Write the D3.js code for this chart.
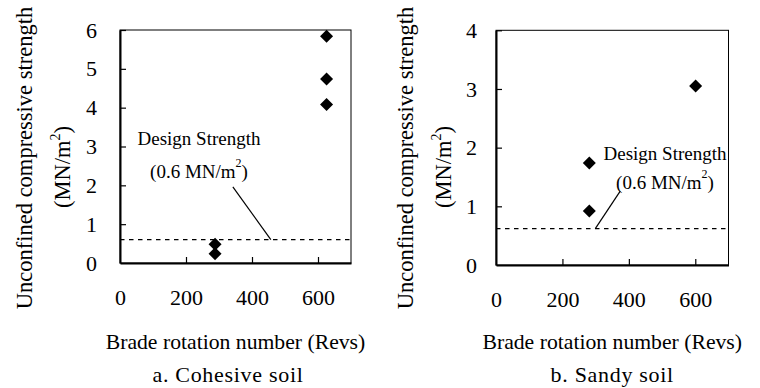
<!DOCTYPE html>
<html>
<meta charset="utf-8">
<style>
  body { margin: 0; background: #fff; }
  svg { display: block; }
  text { font-family: 'Liberation Serif', 'Times New Roman', serif; fill: #000; }
</style>
<body>
<svg width="760" height="388"></svg>
<script src="https://d3js.org/d3.v7.min.js"></script>
<script>
  // values
  let revTicks = [0, 200, 400, 600];
  let cohesiveTicks = [0, 1, 2, 3, 4, 5, 6];
  let sandyTicks = [0, 1, 2, 3, 4];
  let cohesiveRevs = [626, 626, 626, 288, 288];
  let cohesiveStrength = [5.84, 4.74, 4.08, 0.48, 0.24];
  let sandyRevs = [281, 281, 601];
  let sandyStrength = [1.74, 0.92, 3.05];
  let designStrength = 0.6;

  let svg = d3.select("svg");

  // one panel per soil type
  let panels = [
    { revs: cohesiveRevs, vals: cohesiveStrength, ticks: cohesiveTicks, ymax: 6,
      x0: 120, x1: 351, y0: 263, y1: 30, caption: "a. Cohesive soil", capShift: -7.5,
      pointer: [[342, 1.96], [457, designStrength]], ypad: 23,
      label: [199, 138], label2: [199, 171], design: designStrength, tx: 32 },
    { revs: sandyRevs, vals: sandyStrength, ticks: sandyTicks, ymax: 4,
      x0: 496, x1: 728.5, y0: 265, y1: 30.3, caption: "b. Sandy soil", capShift: 0,
      pointer: [[374, 1.26], [299, 0.62]], ypad: 19,
      label: [665, 153], label2: [665, 182], design: 0.62, tx: 413 }
  ];

  panels.forEach(function(p) {
    let x = d3.scaleLinear().domain([0, 700]).range([p.x0, p.x1]);
    let y = d3.scaleLinear().domain([0, p.ymax]).range([p.y0, p.y1]);
    let g = svg.append("g");

    // frame
    g.append("rect")
      .attr("x", p.x0).attr("y", p.y1)
      .attr("width", p.x1 - p.x0).attr("height", p.y0 - p.y1)
      .attr("fill", "none").attr("stroke", "#000").attr("stroke-width", 1);

    // axes with inside ticks
    let xa = g.append("g")
      .attr("transform", "translate(0," + p.y0 + ")")
      .call(d3.axisBottom(x).tickValues(revTicks).tickFormat(d3.format("d"))
        .tickSizeInner(-6).tickSizeOuter(0).tickPadding(26));
    let ya = g.append("g")
      .attr("transform", "translate(" + p.x0 + ",0)")
      .call(d3.axisLeft(y).tickValues(p.ticks).tickFormat(d3.format("d"))
        .tickSizeInner(-6).tickSizeOuter(0).tickPadding(p.ypad));
    [xa, ya].forEach(function(a) {
      a.attr("font-family", "'Liberation Serif', serif").attr("font-size", 22);
      a.select(".domain").attr("stroke-width", 2);
      a.selectAll("line").attr("stroke-width", 1.2);
      a.selectAll("text").style("font-size", "22px");
    });
    xa.selectAll(".tick").filter(d => d === 0).select("line").remove();
    ya.selectAll(".tick").filter(d => d === 0).select("line").remove();

    // design strength line
    g.append("line")
      .attr("x1", x(0)).attr("x2", x(700))
      .attr("y1", y(p.design)).attr("y2", y(p.design))
      .attr("stroke", "#000").attr("stroke-width", 1.2)
      .attr("stroke-dasharray", "4.5,4.5");

    g.append("line")
      .attr("x1", x(p.pointer[0][0])).attr("y1", y(p.pointer[0][1]))
      .attr("x2", x(p.pointer[1][0])).attr("y2", y(p.pointer[1][1]))
      .attr("stroke", "#000").attr("stroke-width", 1.2);

    g.append("text")
      .attr("x", p.label[0]).attr("y", p.label[1])
      .attr("text-anchor", "middle").attr("dominant-baseline", "central")
      .style("font-size", "19px").text("Design Strength");
    let t2 = g.append("text")
      .attr("x", p.label2[0]).attr("y", p.label2[1])
      .attr("text-anchor", "middle").attr("dominant-baseline", "central")
      .style("font-size", "19px");
    t2.append("tspan").text("(0.6 MN/m");
    t2.append("tspan").attr("dy", -8).style("font-size", "12px").text("2");
    t2.append("tspan").attr("dy", 8).text(")");

    // points
    let pts = p.revs.map((r, i) => [r, p.vals[i]]);
    g.selectAll(".pt").data(pts).join("path")
      .attr("class", "pt")
      .attr("transform", d => "translate(" + x(d[0]) + "," + y(d[1]) + ")")
      .attr("d", "M0,-6.5L6.5,0L0,6.5L-6.5,0Z")
      .attr("fill", "#000");

    // titles
    g.append("text")
      .attr("x", (p.x0 + p.x1) / 2).attr("y", 342)
      .attr("text-anchor", "middle").attr("dominant-baseline", "central")
      .style("font-size", "21.7px").text("Brade rotation number (Revs)");
    g.append("text")
      .attr("x", (p.x0 + p.x1) / 2 + p.capShift).attr("y", 374)
      .attr("text-anchor", "middle").attr("dominant-baseline", "central")
      .style("font-size", "22px").style("letter-spacing", "0.7px").text(p.caption);

    g.append("text")
      .attr("transform", "translate(" + p.tx + ",158) rotate(-90)")
      .attr("text-anchor", "middle")
      .style("font-size", "22.5px").text("Unconfined compressive strength");
    let t3 = g.append("text")
      .attr("transform", "translate(" + (p.tx + 38) + ",167) rotate(-90)")
      .attr("text-anchor", "middle")
      .style("font-size", "22.5px");
    t3.append("tspan").text("(MN/m");
    t3.append("tspan").attr("dy", -10).style("font-size", "14px").text("2");
    t3.append("tspan").attr("dy", 10).text(")");
  });
</script>
</body>
</html>
